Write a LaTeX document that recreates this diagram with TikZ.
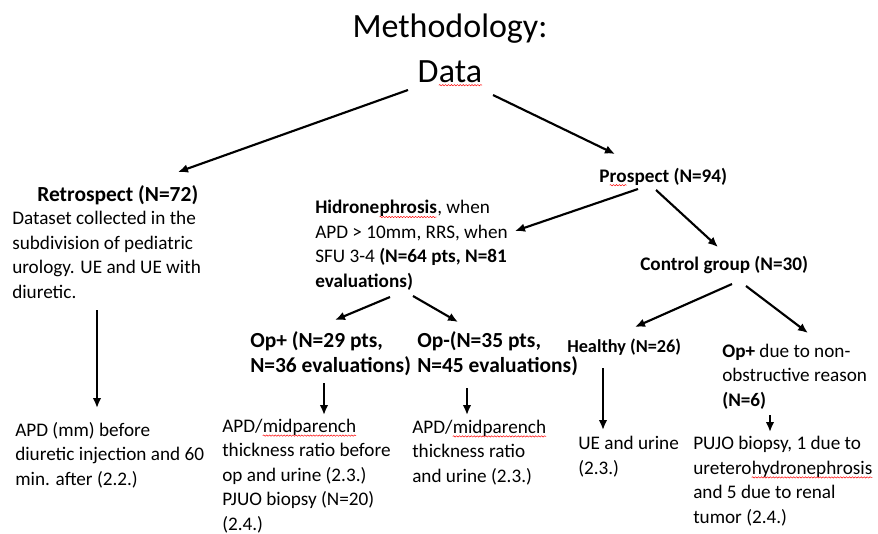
\documentclass[tikz,border=0pt]{standalone}
\usepackage{fontspec}
\setmainfont{Carlito}
\usetikzlibrary{calc, arrows.meta, decorations.pathmorphing}

% red spell-check squiggle under a word
\newcommand\spellwave[1]{\tikz[baseline=(w.base), x=1cm, y=1cm]{\node[inner sep=0, outer sep=0] (w) {#1};
    \draw[red, line width=0.35pt, decorate, decoration={snake, amplitude=0.5pt, segment length=2.2pt}] ([yshift=-2.4pt]w.base west) -- ([yshift=-2.4pt]w.base east);}}

\begin{document}
\begin{tikzpicture}[x=0.75pt, y=-0.75pt,
        txt/.style={inner sep=0, anchor=base west, align=left, font=\fontsize{14.4}{18.3}\selectfont},
        head/.style={txt, font=\fontsize{14.4}{18.3}\selectfont\bfseries},
        bighead/.style={txt, font=\fontsize{16.1}{18.75}\selectfont\bfseries},
        big/.style={inner sep=0, anchor=base, font=\fontsize{25.5}{33}\selectfont},
        arr/.style={-{Latex[length=7.5pt, width=6.5pt]}, line width=1.6pt}]

        \useasboundingbox (0,0) rectangle (878,533);

        \node[big] (title) at (450,37) {Methodology:};
        \node[big] (data) at (450,82) {D\spellwave{ata}};

        % retrospect branch (multi-line nodes sit on their last baseline)
        \node[bighead] (retro) at (37,201) {Retrospect (N=72)};
        \node[txt] (retrotext) at (12,298) {Dataset collected in the\\subdivision of pediatric\\urology. UE and UE with\\diuretic.};
        \node[txt] (apdmm) at (15,485) {APD (mm) before\\diuretic injection and 60\\min. after (2.2.)};

        % hidronephrosis branch
        \node[txt] (hidro) at (315,287) {\textbf{Hidrone\spellwave{phrosis}}, when\\APD > 10mm, RRS, when\\SFU 3-4 \textbf{(N=64 pts, N=81}\\\textbf{evaluations)}};
        \node[bighead] (opplus) at (250,372) {Op+ (N=29 pts,\\N=36 evaluations)};
        \node[bighead] (opminus) at (417,372) {Op-(N=35 pts,\\N=45 evaluations)};
        \node[txt] (ratio1) at (222,530) {APD/\spellwave{midparench}\\thickness ratio before\\op and urine (2.3.)\\PJUO biopsy (N=20)\\(2.4.)};
        \node[txt] (ratio2) at (412,482) {APD/\spellwave{midparench}\\thickness ratio\\and urine (2.3.)};

        % prospect branch
        \node[head] (prospect) at (599,182) {P\spellwave{ro}spect (N=94)};
        \node[head] (control) at (640,270) {Control group (N=30)};
        \node[head, font=\fontsize{13.7}{18.3}\selectfont\bfseries] (healthy) at (567,352) {Healthy (N=26)};
        \node[txt] (opnon) at (722,406) {\textbf{Op+} due to non-\\obstructive reason\\\textbf{(N=6)}};
        \node[txt] (ueurine) at (578,474) {UE and urine\\(2.3.)};
        \node[txt] (pujo) at (693,523) {PUJO biopsy, 1 due to\\uretero\spellwave{hydronephrosis}\\and 5 due to renal\\tumor (2.4.)};

        \draw[arr] ($(data.base)+(-42,8)$) -- ($(retro.base west)+(141,-29)$);
        \draw[arr] ($(data.base)+(43,13)$) -- ($(prospect.base west)+(16,-28)$);
        \draw[arr] ($(prospect.base west)+(39,7)$) -- ($(hidro.base west)+(200,-56)$);
        \draw[arr] ($(prospect.base west)+(57,8)$) -- ($(control.base west)+(78,-23)$);
        \draw[arr] ($(control.base west)+(92,14)$) -- ($(healthy.base west)+(68,-25)$);
        \draw[arr] ($(control.base west)+(106,16)$) -- ($(opnon.base west)+(86,-73)$);
        \draw[arr] ($(hidro.base west)+(75,10)$) -- ($(opplus.base west)+(85,-52)$);
        \draw[arr] ($(hidro.base west)+(98,9)$) -- ($(opminus.base west)+(41,-50)$);
        \draw[arr] ($(retrotext.base west)+(85,12)$) -- ($(apdmm.base west)+(82,-77)$);
        \draw[arr] ($(opplus.base west)+(74,11)$) -- ($(ratio1.base west)+(102,-115)$);
        \draw[arr] ($(opminus.base west)+(50,16)$) -- ($(ratio2.base west)+(55,-67)$);
        \draw[arr] ($(healthy.base west)+(36,16)$) -- ($(ueurine.base west)+(25,-44)$);
        \draw[arr] ($(opnon.base west)+(48,9)$) -- ($(pujo.base west)+(77,-91)$);
    \end{tikzpicture}
\end{document}
